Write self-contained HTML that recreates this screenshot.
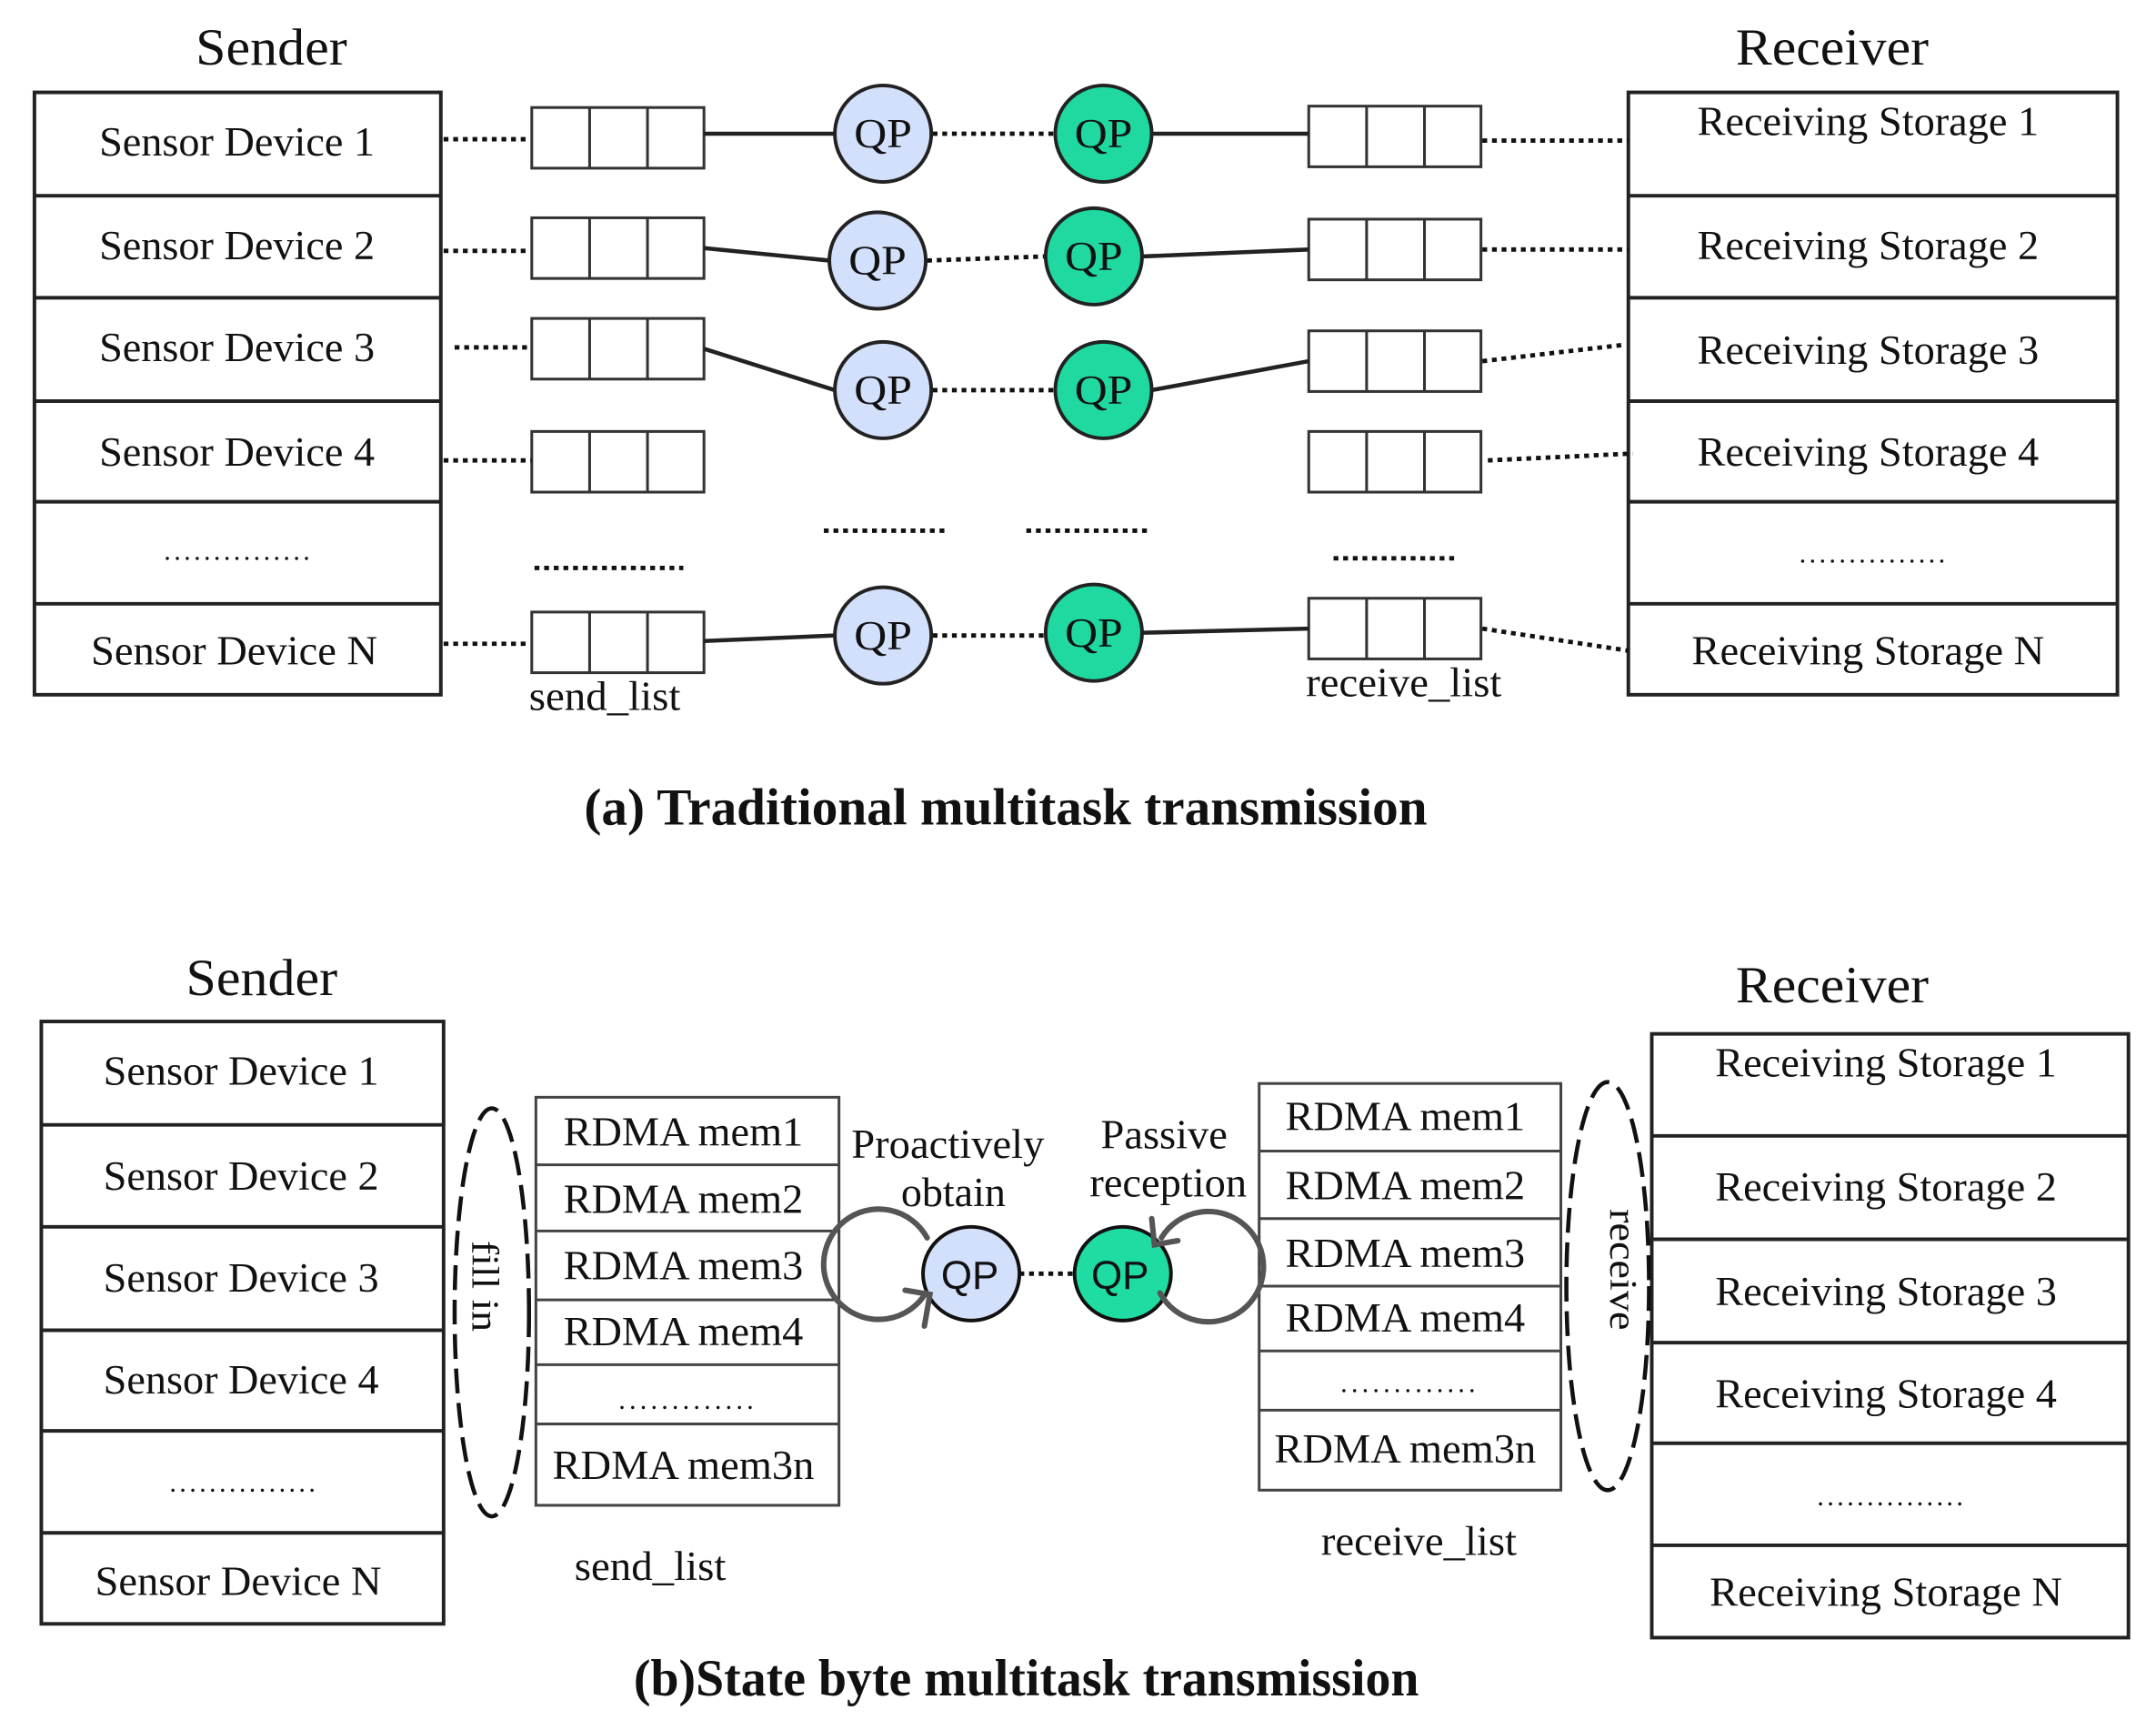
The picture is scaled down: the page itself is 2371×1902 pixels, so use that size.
<!DOCTYPE html>
<html><head><meta charset="utf-8"><style>html,body{margin:0;padding:0;background:#fff}svg{display:block}</style></head>
<body>
<svg width="2371" height="1902" viewBox="0 0 1565 1255" preserveAspectRatio="none" xmlns="http://www.w3.org/2000/svg" font-family="'Liberation Serif', serif" fill="#111">
<defs>
<g id="b3"><rect x="0" y="0" width="125" height="44"/><path d="M42 0V44M84 0V44" fill="none"/></g>
</defs>
<rect width="1565" height="1255" fill="#fff"/>
<g font-size="38" text-anchor="middle" lengthAdjust="spacingAndGlyphs">
<text x="197" y="47" textLength="110" lengthAdjust="spacingAndGlyphs">Sender</text>
<text x="1330" y="47" textLength="140" lengthAdjust="spacingAndGlyphs">Receiver</text>
<text x="190" y="722" textLength="110" lengthAdjust="spacingAndGlyphs">Sender</text>
<text x="1330" y="727" textLength="140" lengthAdjust="spacingAndGlyphs">Receiver</text>
</g>
<g fill="none" stroke="#222" stroke-width="2.6">
<rect x="25" y="67" width="295" height="437"/>
<path d="M25 142H320M25 216H320M25 291H320M25 364H320M25 438H320"/>
<rect x="1182" y="67" width="355" height="437"/>
<path d="M1182 142H1537M1182 216H1537M1182 291H1537M1182 364H1537M1182 438H1537"/>
</g>
<g font-size="30" text-anchor="middle">
<text x="172" y="113" textLength="200" lengthAdjust="spacingAndGlyphs">Sensor Device 1</text>
<text x="172" y="188" textLength="200" lengthAdjust="spacingAndGlyphs">Sensor Device 2</text>
<text x="172" y="262" textLength="200" lengthAdjust="spacingAndGlyphs">Sensor Device 3</text>
<text x="172" y="338" textLength="200" lengthAdjust="spacingAndGlyphs">Sensor Device 4</text>
<text x="172" y="406" font-size="20" textLength="106" lengthAdjust="spacing">...............</text>
<text x="170" y="482" textLength="208" lengthAdjust="spacingAndGlyphs">Sensor Device N</text>
<text x="1356" y="98" textLength="248" lengthAdjust="spacingAndGlyphs">Receiving Storage 1</text>
<text x="1356" y="188" textLength="248" lengthAdjust="spacingAndGlyphs">Receiving Storage 2</text>
<text x="1356" y="264" textLength="248" lengthAdjust="spacingAndGlyphs">Receiving Storage 3</text>
<text x="1356" y="338" textLength="248" lengthAdjust="spacingAndGlyphs">Receiving Storage 4</text>
<text x="1359" y="408" font-size="20" textLength="106" lengthAdjust="spacing">...............</text>
<text x="1356" y="482" textLength="256" lengthAdjust="spacingAndGlyphs">Receiving Storage N</text>
<text x="439" y="515" textLength="110" lengthAdjust="spacingAndGlyphs">send_list</text>
<text x="1019" y="505" textLength="142" lengthAdjust="spacingAndGlyphs">receive_list</text>
</g>
<g fill="#fff" stroke="#333" stroke-width="2">
<use href="#b3" x="386" y="78"/><use href="#b3" x="386" y="158"/><use href="#b3" x="386" y="231"/><use href="#b3" x="386" y="313"/><use href="#b3" x="386" y="444"/>
<use href="#b3" x="950" y="77"/><use href="#b3" x="950" y="159"/><use href="#b3" x="950" y="240"/><use href="#b3" x="950" y="313"/><use href="#b3" x="950" y="434"/>
</g>
<g stroke="#111" stroke-width="3.2" stroke-dasharray="3.5 3.5" fill="none">
<path d="M322 101H384M322 182H384M330 252H386M322 334H386M322 467H384"/>
<path d="M1076 102H1182M1076 181H1182M1076 262L1180 250M1080 334L1185 329M1076 456L1182 472"/>
<path d="M677 97H766M673 189L759 186M677 283H766M677 461H759"/>
<path d="M598 385H686M745 385H833M968 405H1056M388 412H496"/>
<path d="M740 924H780"/>
</g>
<g stroke="#222" stroke-width="3" fill="none">
<path d="M511 97H606M511 180L602 189M511 253L606 283M511 465L606 461"/>
<path d="M836 97H950M830 186L950 181M836 283L950 262M830 459L950 456"/>
</g>
<g stroke="#222" stroke-width="2.6">
<g fill="#d3e0fb"><ellipse cx="641" cy="97" rx="35" ry="35"/><ellipse cx="637" cy="189" rx="35" ry="35"/><ellipse cx="641" cy="283" rx="35" ry="35"/><ellipse cx="641" cy="461" rx="35" ry="35"/></g>
<g fill="#1fd9a0"><ellipse cx="801" cy="97" rx="35" ry="35"/><ellipse cx="794" cy="186" rx="35" ry="35"/><ellipse cx="801" cy="283" rx="35" ry="35"/><ellipse cx="794" cy="459" rx="35" ry="35"/></g>
</g>
<g font-size="30" text-anchor="middle">
<text x="641" y="107" textLength="42" lengthAdjust="spacingAndGlyphs">QP</text><text x="637" y="199" textLength="42" lengthAdjust="spacingAndGlyphs">QP</text><text x="641" y="293" textLength="42" lengthAdjust="spacingAndGlyphs">QP</text><text x="641" y="471" textLength="42" lengthAdjust="spacingAndGlyphs">QP</text>
<text x="801" y="107" textLength="42" lengthAdjust="spacingAndGlyphs">QP</text><text x="794" y="196" textLength="42" lengthAdjust="spacingAndGlyphs">QP</text><text x="801" y="293" textLength="42" lengthAdjust="spacingAndGlyphs">QP</text><text x="794" y="469" textLength="42" lengthAdjust="spacingAndGlyphs">QP</text>
</g>
<text x="730" y="598" font-size="38" font-weight="bold" text-anchor="middle" textLength="612" lengthAdjust="spacingAndGlyphs">(a)  Traditional multitask transmission</text>

<g fill="none" stroke="#222" stroke-width="2.6">
<rect x="30" y="741" width="292" height="437"/>
<path d="M30 816H322M30 890H322M30 965H322M30 1038H322M30 1112H322"/>
<rect x="1199" y="750" width="346" height="438"/>
<path d="M1199 824H1545M1199 899H1545M1199 974H1545M1199 1047H1545M1199 1121H1545"/>
</g>
<g fill="none" stroke="#444" stroke-width="2">
<rect x="389" y="796" width="220" height="296"/>
<path d="M389 845H609M389 893H609M389 943H609M389 990H609M389 1033H609"/>
<rect x="914" y="786" width="219" height="295"/>
<path d="M914 835H1133M914 884H1133M914 933H1133M914 980H1133M914 1023H1133"/>
</g>
<g font-size="30" text-anchor="middle">
<text x="175" y="787" textLength="200" lengthAdjust="spacingAndGlyphs">Sensor Device 1</text>
<text x="175" y="863" textLength="200" lengthAdjust="spacingAndGlyphs">Sensor Device 2</text>
<text x="175" y="937" textLength="200" lengthAdjust="spacingAndGlyphs">Sensor Device 3</text>
<text x="175" y="1011" textLength="200" lengthAdjust="spacingAndGlyphs">Sensor Device 4</text>
<text x="176" y="1082" font-size="20" textLength="106" lengthAdjust="spacing">...............</text>
<text x="173" y="1157" textLength="208" lengthAdjust="spacingAndGlyphs">Sensor Device N</text>
<text x="1369" y="781" textLength="248" lengthAdjust="spacingAndGlyphs">Receiving Storage 1</text>
<text x="1369" y="871" textLength="248" lengthAdjust="spacingAndGlyphs">Receiving Storage 2</text>
<text x="1369" y="947" textLength="248" lengthAdjust="spacingAndGlyphs">Receiving Storage 3</text>
<text x="1369" y="1021" textLength="248" lengthAdjust="spacingAndGlyphs">Receiving Storage 4</text>
<text x="1372" y="1092" font-size="20" textLength="106" lengthAdjust="spacing">...............</text>
<text x="1369" y="1165" textLength="256" lengthAdjust="spacingAndGlyphs">Receiving Storage N</text>
<text x="496" y="831" textLength="174" lengthAdjust="spacingAndGlyphs">RDMA mem1</text>
<text x="496" y="880" textLength="174" lengthAdjust="spacingAndGlyphs">RDMA mem2</text>
<text x="496" y="928" textLength="174" lengthAdjust="spacingAndGlyphs">RDMA mem3</text>
<text x="496" y="976" textLength="174" lengthAdjust="spacingAndGlyphs">RDMA mem4</text>
<text x="498" y="1022" font-size="20" textLength="98" lengthAdjust="spacing">.............</text>
<text x="496" y="1073" textLength="190" lengthAdjust="spacingAndGlyphs">RDMA mem3n</text>
<text x="1020" y="820" textLength="174" lengthAdjust="spacingAndGlyphs">RDMA mem1</text>
<text x="1020" y="870" textLength="174" lengthAdjust="spacingAndGlyphs">RDMA mem2</text>
<text x="1020" y="919" textLength="174" lengthAdjust="spacingAndGlyphs">RDMA mem3</text>
<text x="1020" y="966" textLength="174" lengthAdjust="spacingAndGlyphs">RDMA mem4</text>
<text x="1022" y="1010" font-size="20" textLength="98" lengthAdjust="spacing">.............</text>
<text x="1020" y="1061" textLength="190" lengthAdjust="spacingAndGlyphs">RDMA mem3n</text>
<text x="472" y="1146" textLength="110" lengthAdjust="spacingAndGlyphs">send_list</text>
<text x="1030" y="1128" textLength="142" lengthAdjust="spacingAndGlyphs">receive_list</text>
<text x="688" y="840" textLength="140" lengthAdjust="spacingAndGlyphs">Proactively</text>
<text x="692" y="875" textLength="76" lengthAdjust="spacingAndGlyphs">obtain</text>
<text x="845" y="833" textLength="92" lengthAdjust="spacingAndGlyphs">Passive</text>
<text x="848" y="868" textLength="114" lengthAdjust="spacingAndGlyphs">reception</text>
<text transform="translate(343 933) rotate(90)" text-anchor="middle" font-size="28" textLength="66" lengthAdjust="spacingAndGlyphs">fill in</text>
<text transform="translate(1169 921) rotate(90)" text-anchor="middle" font-size="28" textLength="88" lengthAdjust="spacingAndGlyphs">receive</text>
</g>
<g fill="none" stroke="#111" stroke-width="3" stroke-dasharray="18 7">
<ellipse cx="357" cy="952" rx="27" ry="148"/>
<ellipse cx="1167" cy="933" rx="30" ry="148"/>
</g>
<g stroke="#111" stroke-width="2.6">
<ellipse cx="705" cy="924" rx="35" ry="34" fill="#d3e0fb"/>
<ellipse cx="815" cy="924" rx="35" ry="34" fill="#1fdca3"/>
</g>
<g font-family="'Liberation Sans', sans-serif" font-size="29" text-anchor="middle">
<text x="704" y="935">QP</text><text x="813" y="935">QP</text>
</g>
<g fill="none" stroke="#555" stroke-width="4" stroke-linecap="round">
<path d="M673 898 A40 40 0 1 0 672 938"/>
<path d="M657 936L675 939L671 962"/>
<path d="M843 898 A40 40 0 1 1 842 938"/>
<path d="M836 884L838 903L855 900"/>
</g>
<text x="745" y="1230" font-size="38" font-weight="bold" text-anchor="middle" textLength="570" lengthAdjust="spacingAndGlyphs">(b)State byte multitask transmission</text>
</svg>
</body></html>
